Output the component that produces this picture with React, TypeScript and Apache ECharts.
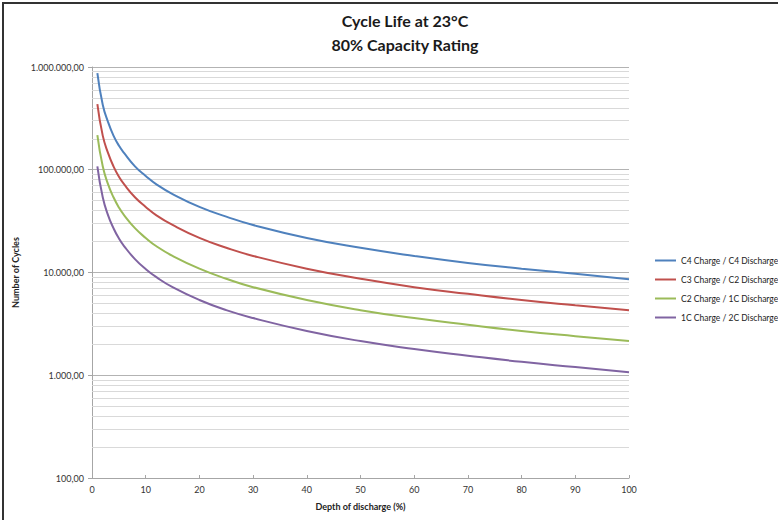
import React, { useEffect, useRef } from "react";
import * as echarts from "echarts";

const depth = [1, 2, 3, 4, 5, 6, 8, 10, 12, 15, 20, 25, 30, 40, 50, 60, 70, 80, 90, 100];
const seriesNames = [
  "C4 Charge / C4 Discharge",
  "C3 Charge / C2 Discharge",
  "C2 Charge / 1C Discharge",
  "1C Charge / 2C Discharge",
];
const c4c4 = [870000, 430000, 290000, 215000, 172000, 145000, 108000, 87000, 72000, 58000, 43500, 35000, 29000, 21700, 17400, 14500, 12400, 10900, 9700, 8600];
const c3c2 = [435000, 215000, 145000, 108000, 86000, 72000, 54000, 43500, 36000, 29000, 21700, 17400, 14500, 10900, 8700, 7200, 6200, 5400, 4800, 4300];
const c21c = [217000, 108000, 72000, 54000, 43000, 36000, 27000, 21700, 18000, 14500, 10900, 8700, 7200, 5400, 4300, 3600, 3100, 2700, 2400, 2150];
const c12c = [108000, 54000, 36000, 27000, 21500, 18000, 13500, 10800, 9000, 7200, 5400, 4300, 3600, 2700, 2150, 1800, 1550, 1350, 1200, 1070];
const colors = ["#4F81BD", "#C0504D", "#9BBB59", "#8064A2"];
const xTicks = [0, 10, 20, 30, 40, 50, 60, 70, 80, 90, 100];
const minorLevels = [
  200, 300, 400, 500, 600, 700, 800, 900,
  2000, 3000, 4000, 5000, 6000, 7000, 8000, 9000,
  20000, 30000, 40000, 50000, 60000, 70000, 80000, 90000,
  200000, 300000, 400000, 500000, 600000, 700000, 800000, 900000,
];

function fmtDE(v: number): string {
  const s = Math.round(v).toString().replace(/\B(?=(\d{3})+(?!\d))/g, ".");
  return s + ",00";
}

export default function App() {
  const ref = useRef<HTMLDivElement>(null);
  useEffect(() => {
    if (!ref.current) return;
    const chart = echarts.init(ref.current, undefined, { renderer: "svg" });
    const font = "Lato, 'Open Sans', sans-serif";
    const all = [c4c4, c3c2, c21c, c12c];
    const series: any[] = all.map((vals, i) => ({
      name: seriesNames[i],
      type: "line",
      data: depth.map((d, j) => [d, vals[j]]),
      smooth: true,
      showSymbol: false,
      symbol: "none",
      lineStyle: { color: colors[i], width: 2 },
      itemStyle: { color: colors[i] },
      z: 5,
    }));
    series.push({
      name: "minor",
      type: "line",
      data: [],
      silent: true,
      markLine: {
        silent: true,
        symbol: "none",
        label: { show: false },
        lineStyle: { color: "#d9d9d9", width: 1, type: "solid" },
        data: minorLevels.map((v) => ({ yAxis: v })),
      },
      z: 1,
    });
    chart.setOption({
      animation: false,
      backgroundColor: "#ffffff",
      textStyle: { fontFamily: font },
      title: {
        text: "Cycle Life at 23°C\n80% Capacity Rating",
        left: 400,
        textAlign: "center",
        top: 3,
        textStyle: { fontSize: 16, fontWeight: "bold", color: "#1a1a1a", lineHeight: 24, fontFamily: font },
      },
      legend: {
        orient: "vertical",
        left: 650,
        top: 251,
        itemGap: 10,
        itemWidth: 21,
        itemHeight: 10,
        icon: "path://M0,4 L21,4 L21,6 L0,6 Z",
        data: seriesNames,
        textStyle: { fontSize: 8.5, color: "#222", fontFamily: font },
      },
      grid: { left: 92, right: 149, top: 67, bottom: 42 },
      xAxis: {
        type: "value",
        min: 0,
        max: 100,
        interval: 10,
        name: "Depth of discharge (%)",
        nameLocation: "middle",
        nameGap: 24,
        nameTextStyle: { fontSize: 9, fontWeight: "bold", color: "#222", fontFamily: font },
        axisLine: { show: true, lineStyle: { color: "#a6a6a6", width: 1 } },
        axisTick: { show: true, inside: true, length: 3, lineStyle: { color: "#a6a6a6" } },
        axisLabel: { fontSize: 9, color: "#333", margin: 7, formatter: (v: number) => (xTicks.includes(v) ? String(v) : "") },
        splitLine: { show: false },
      },
      yAxis: {
        type: "log",
        logBase: 10,
        min: 100,
        max: 1000000,
        name: "Number of Cycles",
        nameLocation: "middle",
        nameGap: 57,
        nameTextStyle: { fontSize: 9, fontWeight: "bold", color: "#222", fontFamily: font },
        axisLine: { show: true, lineStyle: { color: "#a6a6a6", width: 1 } },
        axisTick: { show: true, length: 4, lineStyle: { color: "#a6a6a6" } },
        axisLabel: { fontSize: 9, color: "#333", margin: 8, formatter: (v: number) => fmtDE(v) },
        splitLine: { show: true, lineStyle: { color: "#b3b3b3", width: 1 } },
      },
      graphic: [
        { type: "line", shape: { x1: 3, y1: 2, x2: 3, y2: 520 }, style: { stroke: "#333", lineWidth: 2 } },
        { type: "line", shape: { x1: 2, y1: 3, x2: 778, y2: 3 }, style: { stroke: "#333", lineWidth: 2 } },
      ],
      series,
    });
    return () => chart.dispose();
  }, []);
  return (
    <div
      ref={ref}
      style={{ position: "absolute", left: 0, top: 0, width: 778, height: 520 }}
    />
  );
}
